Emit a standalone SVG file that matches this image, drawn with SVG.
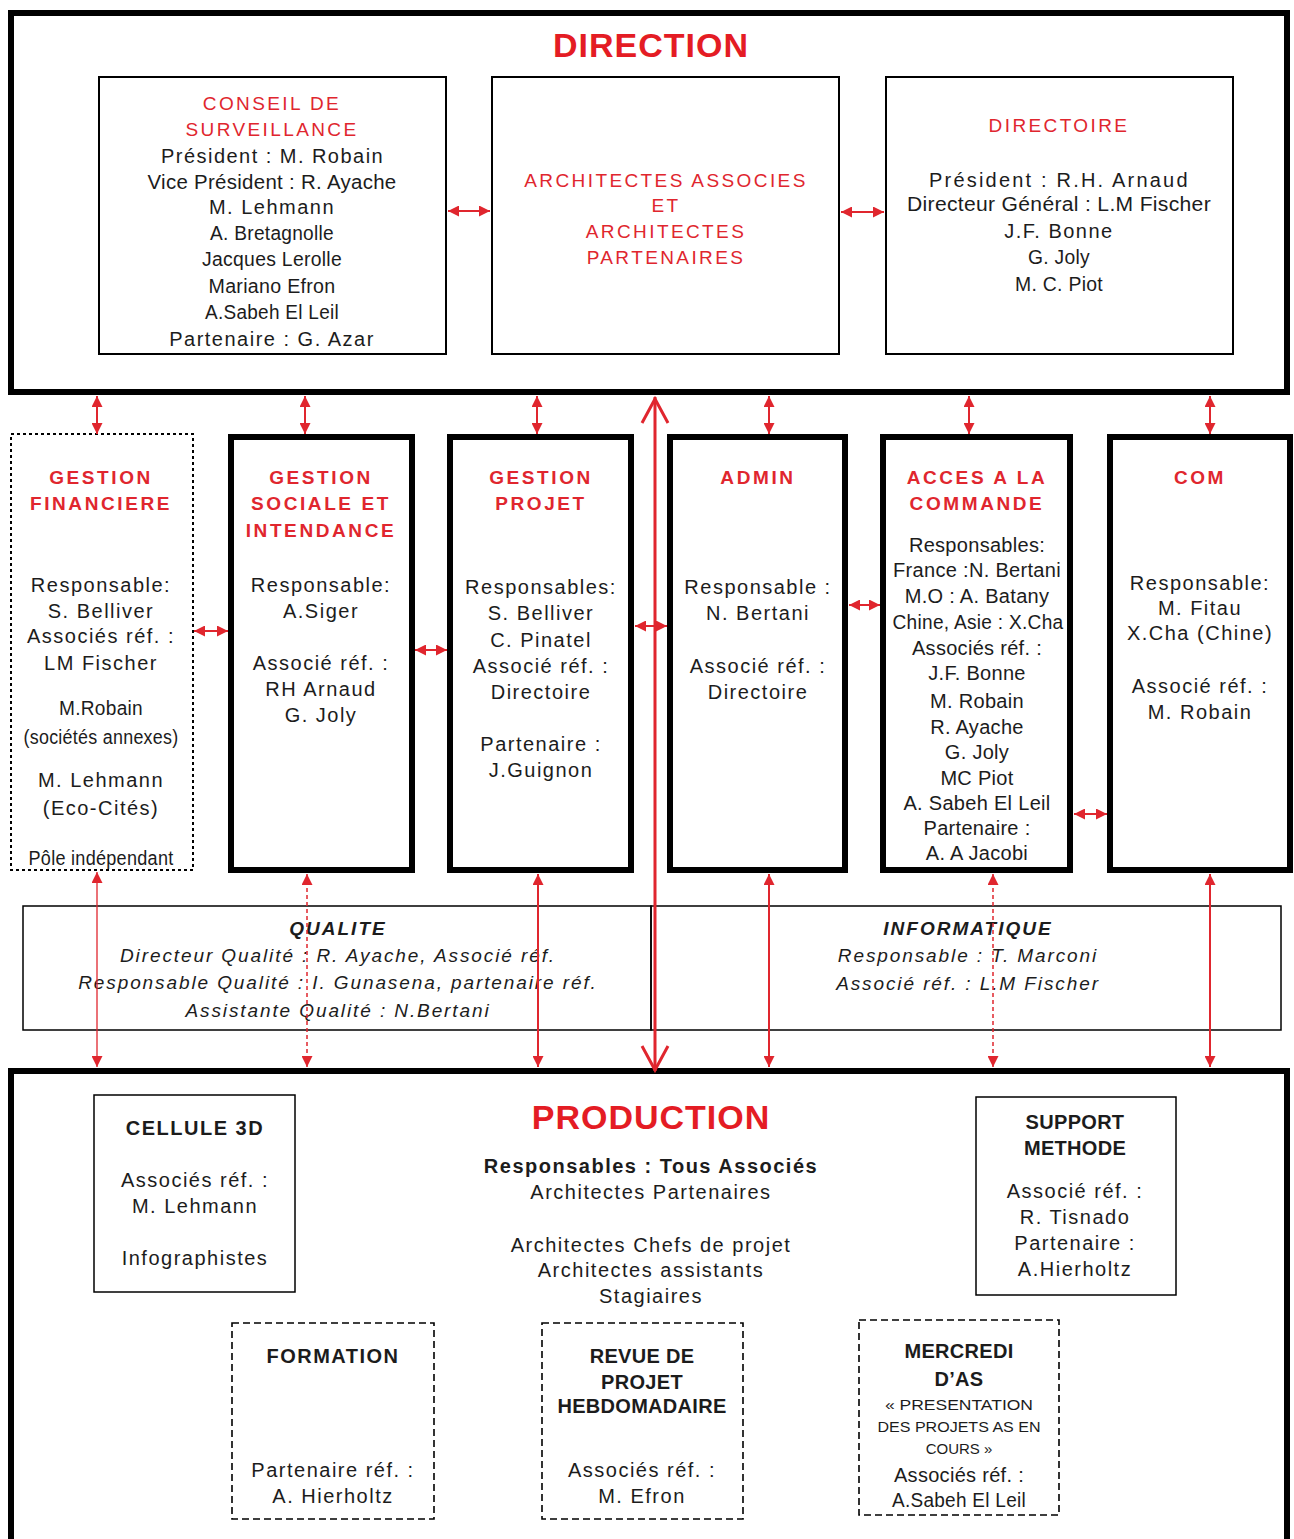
<svg xmlns="http://www.w3.org/2000/svg" width="1294" height="1539" viewBox="0 0 1294 1539">
  <style>
    text { font-family: "Liberation Sans", Arial, sans-serif; text-anchor: middle; }
    .t { font-size: 20px; letter-spacing: 1.5px; fill: #1c1c1c; }
    .n { letter-spacing: 0.3px; }
    .b { font-weight: bold; }
    .r { font-size: 19px; letter-spacing: 2.4px; fill: #e0262e; }
    .rb { font-size: 19px; font-weight: bold; letter-spacing: 2.6px; fill: #e0262e; }
    .big { font-size: 34px; font-weight: bold; letter-spacing: 1px; fill: #e41c24; }
    .i { font-size: 19px; font-style: italic; letter-spacing: 1.9px; fill: #1c1c1c; }
    .ib { font-size: 19px; font-style: italic; font-weight: bold; letter-spacing: 2px; fill: #1c1c1c; }
    .sm { font-size: 15px; letter-spacing: 0; fill: #1c1c1c; }
    .frame { fill: none; stroke: #000; stroke-width: 6; }
    .box { fill: none; stroke: #000; stroke-width: 2; }
    .thin { fill: none; stroke: #000; stroke-width: 1.5; }
    .dot { fill: none; stroke: #000; stroke-width: 2; stroke-dasharray: 3 3; }
    .dash { fill: none; stroke: #000; stroke-width: 1.6; stroke-dasharray: 7 4; }
    .link { stroke: #e0262e; stroke-width: 2; fill: none; marker-start: url(#tip); marker-end: url(#tip); }
    .link-thin { stroke-width: 1.3; }
    .link-dash { stroke-width: 1.5; stroke-dasharray: 4 3; }
    .spine { stroke: #e0262e; stroke-width: 3; fill: none; }
  </style>
  <defs>
    <marker id="tip" viewBox="0 0 10 10" refX="10" refY="5" markerWidth="11" markerHeight="11" markerUnits="userSpaceOnUse" orient="auto-start-reverse">
      <path d="M0,0 L10,5 L0,10 z" fill="#e0262e"/>
    </marker>
  </defs>

  <rect x="0" y="0" width="1294" height="1539" fill="#fff"/>

  <!-- DIRECTION block -->
  <g id="direction">
    <rect class="frame" x="11" y="13" width="1276" height="379"/>
    <text class="big" x="651" y="57">DIRECTION</text>
  </g>

  <g id="conseil">
    <rect class="box" x="99" y="77" width="347" height="277"/>
    <text class="r" x="272" y="110">CONSEIL DE</text>
    <text class="r" x="272" y="136">SURVEILLANCE</text>
    <text class="t n" x="272" y="163" textLength="222" lengthAdjust="spacing">Président : M. Robain</text>
    <text class="t n" x="272" y="189" textLength="249" lengthAdjust="spacingAndGlyphs">Vice Président : R. Ayache</text>
    <text class="t" x="272" y="214">M.  Lehmann</text>
    <text class="t n" x="272" y="240" textLength="124" lengthAdjust="spacingAndGlyphs">A. Bretagnolle</text>
    <text class="t n" x="272" y="266" textLength="140" lengthAdjust="spacingAndGlyphs">Jacques Lerolle</text>
    <text class="t n" x="272" y="293" textLength="127" lengthAdjust="spacingAndGlyphs">Mariano Efron</text>
    <text class="t n" x="272" y="319" textLength="134" lengthAdjust="spacingAndGlyphs">A.Sabeh El Leil</text>
    <text class="t" x="272" y="346">Partenaire : G. Azar</text>
  </g>

  <g id="architectes">
    <rect class="box" x="492" y="77" width="347" height="277"/>
    <text class="r" x="666" y="187">ARCHITECTES ASSOCIES</text>
    <text class="r" x="666" y="212">ET</text>
    <text class="r" x="666" y="238">ARCHITECTES</text>
    <text class="r" x="666" y="264">PARTENAIRES</text>
  </g>

  <g id="directoire">
    <rect class="box" x="886" y="77" width="347" height="277"/>
    <text class="r" x="1059" y="132">DIRECTOIRE</text>
    <text class="t" x="1059" y="187" textLength="260" lengthAdjust="spacing">Président : R.H. Arnaud</text>
    <text class="t n" x="1059" y="211" textLength="304" lengthAdjust="spacingAndGlyphs">Directeur Général : L.M Fischer</text>
    <text class="t" x="1059" y="238">J.F. Bonne</text>
    <text class="t n" x="1059" y="264" textLength="62" lengthAdjust="spacingAndGlyphs">G. Joly</text>
    <text class="t n" x="1059" y="291" textLength="88" lengthAdjust="spacingAndGlyphs">M. C. Piot</text>
  </g>

  <!-- middle row of departments -->
  <g id="gestion-financiere">
    <rect class="dot" x="11" y="434" width="182" height="436"/>
    <text class="rb" x="101" y="484">GESTION</text>
    <text class="rb" x="101" y="510">FINANCIERE</text>
    <text class="t" x="101" y="592">Responsable:</text>
    <text class="t" x="101" y="618">S. Belliver</text>
    <text class="t" x="101" y="643">Associés réf. :</text>
    <text class="t" x="101" y="670">LM Fischer</text>
    <text class="t n" x="101" y="715" textLength="84" lengthAdjust="spacingAndGlyphs">M.Robain</text>
    <text class="t n" x="101" y="744" textLength="155" lengthAdjust="spacingAndGlyphs">(sociétés annexes)</text>
    <text class="t" x="101" y="787">M. Lehmann</text>
    <text class="t" x="101" y="815">(Eco-Cités)</text>
    <text class="t n" x="101" y="865" textLength="145" lengthAdjust="spacingAndGlyphs">Pôle indépendant</text>
  </g>

  <g id="gestion-sociale">
    <rect class="frame" x="231" y="437" width="181" height="433"/>
    <text class="rb" x="321" y="484">GESTION</text>
    <text class="rb" x="321" y="510">SOCIALE ET</text>
    <text class="rb" x="321" y="537">INTENDANCE</text>
    <text class="t" x="321" y="592">Responsable:</text>
    <text class="t" x="321" y="618">A.Siger</text>
    <text class="t" x="321" y="670">Associé réf. :</text>
    <text class="t" x="321" y="696">RH Arnaud</text>
    <text class="t" x="321" y="722">G. Joly</text>
  </g>

  <g id="gestion-projet">
    <rect class="frame" x="450" y="437" width="181" height="433"/>
    <text class="rb" x="541" y="484">GESTION</text>
    <text class="rb" x="541" y="510">PROJET</text>
    <text class="t" x="541" y="594">Responsables:</text>
    <text class="t" x="541" y="620">S. Belliver</text>
    <text class="t" x="541" y="647">C. Pinatel</text>
    <text class="t" x="541" y="673">Associé réf. :</text>
    <text class="t" x="541" y="699">Directoire</text>
    <text class="t" x="541" y="751">Partenaire :</text>
    <text class="t" x="541" y="777">J.Guignon</text>
  </g>

  <g id="admin">
    <rect class="frame" x="670" y="437" width="175" height="433"/>
    <text class="rb" x="758" y="484">ADMIN</text>
    <text class="t" x="758" y="594">Responsable :</text>
    <text class="t" x="758" y="620">N. Bertani</text>
    <text class="t" x="758" y="673">Associé réf. :</text>
    <text class="t" x="758" y="699">Directoire</text>
  </g>

  <g id="acces-commande">
    <rect class="frame" x="883" y="437" width="187" height="433"/>
    <text class="rb" x="977" y="484">ACCES A LA</text>
    <text class="rb" x="977" y="510">COMMANDE</text>
    <text class="t n" x="977" y="552">Responsables:</text>
    <text class="t n" x="977" y="577" textLength="168" lengthAdjust="spacingAndGlyphs">France :N. Bertani</text>
    <text class="t n" x="977" y="603">M.O : A. Batany</text>
    <text class="t n" x="978" y="629" textLength="171" lengthAdjust="spacingAndGlyphs">Chine, Asie : X.Cha</text>
    <text class="t n" x="977" y="655">Associés réf. :</text>
    <text class="t n" x="977" y="680">J.F. Bonne</text>
    <text class="t n" x="977" y="708">M. Robain</text>
    <text class="t n" x="977" y="734">R. Ayache</text>
    <text class="t n" x="977" y="759">G. Joly</text>
    <text class="t n" x="977" y="785">MC Piot</text>
    <text class="t n" x="977" y="810">A. Sabeh El Leil</text>
    <text class="t n" x="977" y="835">Partenaire :</text>
    <text class="t n" x="977" y="860">A. A Jacobi</text>
  </g>

  <g id="com">
    <rect class="frame" x="1110" y="437" width="180" height="433"/>
    <text class="rb" x="1200" y="484">COM</text>
    <text class="t" x="1200" y="590">Responsable:</text>
    <text class="t" x="1200" y="615">M. Fitau</text>
    <text class="t" x="1200" y="640">X.Cha (Chine)</text>
    <text class="t" x="1200" y="693">Associé réf. :</text>
    <text class="t" x="1200" y="719">M. Robain</text>
  </g>

  <!-- transversal services -->
  <g id="qualite">
    <rect class="thin" x="23" y="906" width="628" height="124"/>
    <text class="ib" x="338" y="935">QUALITE</text>
    <text class="i" x="338" y="962">Directeur Qualité : R. Ayache, Associé réf.</text>
    <text class="i" x="338" y="989">Responsable Qualité : I. Gunasena, partenaire réf.</text>
    <text class="i" x="338" y="1017">Assistante Qualité : N.Bertani</text>
  </g>

  <g id="informatique">
    <rect class="thin" x="651" y="906" width="630" height="124"/>
    <text class="ib" x="968" y="935">INFORMATIQUE</text>
    <text class="i" x="968" y="962">Responsable : T. Marconi</text>
    <text class="i" x="968" y="990">Associé réf. : L.M Fischer</text>
  </g>

  <!-- PRODUCTION block -->
  <g id="production">
    <rect class="frame" x="11" y="1071" width="1276" height="500"/>
    <text class="big" x="651" y="1129">PRODUCTION</text>
    <text class="t b" x="651" y="1173">Responsables : Tous Associés</text>
    <text class="t" x="651" y="1199">Architectes Partenaires</text>
    <text class="t" x="651" y="1252">Architectes Chefs de projet</text>
    <text class="t" x="651" y="1277">Architectes assistants</text>
    <text class="t" x="651" y="1303">Stagiaires</text>
  </g>

  <g id="cellule-3d">
    <rect class="thin" x="94" y="1095" width="201" height="197"/>
    <text class="t b" x="195" y="1135">CELLULE 3D</text>
    <text class="t" x="195" y="1187">Associés réf. :</text>
    <text class="t" x="195" y="1213">M. Lehmann</text>
    <text class="t" x="195" y="1265">Infographistes</text>
  </g>

  <g id="support-methode">
    <rect class="thin" x="976" y="1097" width="200" height="198"/>
    <text class="t b n" x="1075" y="1129">SUPPORT</text>
    <text class="t b n" x="1075" y="1155">METHODE</text>
    <text class="t" x="1075" y="1198">Associé réf. :</text>
    <text class="t" x="1075" y="1224">R. Tisnado</text>
    <text class="t" x="1075" y="1250">Partenaire :</text>
    <text class="t" x="1075" y="1276">A.Hierholtz</text>
  </g>

  <g id="formation">
    <rect class="dash" x="232" y="1323" width="202" height="196"/>
    <text class="t b" x="333" y="1363">FORMATION</text>
    <text class="t" x="333" y="1477">Partenaire réf. :</text>
    <text class="t" x="333" y="1503">A. Hierholtz</text>
  </g>

  <g id="revue-projet">
    <rect class="dash" x="542" y="1323" width="201" height="196"/>
    <text class="t b n" x="642" y="1363">REVUE DE</text>
    <text class="t b n" x="642" y="1389">PROJET</text>
    <text class="t b n" x="642" y="1413">HEBDOMADAIRE</text>
    <text class="t" x="642" y="1477">Associés réf. :</text>
    <text class="t" x="642" y="1503">M. Efron</text>
  </g>

  <g id="mercredi-as">
    <rect class="dash" x="859" y="1320" width="200" height="195"/>
    <text class="t b n" x="959" y="1358">MERCREDI</text>
    <text class="t b n" x="959" y="1386">D’AS</text>
    <text class="sm" x="959" y="1410" textLength="148" lengthAdjust="spacingAndGlyphs">« PRESENTATION</text>
    <text class="sm" x="959" y="1432" textLength="163" lengthAdjust="spacingAndGlyphs">DES PROJETS AS EN</text>
    <text class="sm" x="959" y="1454">COURS »</text>
    <text class="t n" x="959" y="1482">Associés réf. :</text>
    <text class="t n" x="959" y="1507" textLength="134" lengthAdjust="spacingAndGlyphs">A.Sabeh El Leil</text>
  </g>

  <!-- connectors -->
  <g id="connectors">
    <!-- inside DIRECTION -->
    <line class="link" x1="448" y1="211" x2="490" y2="211"/>
    <line class="link" x1="841" y1="212" x2="884" y2="212"/>

    <!-- DIRECTION to departments -->
    <line class="link" x1="97" y1="396" x2="97" y2="434"/>
    <line class="link" x1="305" y1="396" x2="305" y2="434"/>
    <line class="link" x1="537" y1="396" x2="537" y2="434"/>
    <line class="link" x1="769" y1="396" x2="769" y2="434"/>
    <line class="link" x1="969" y1="396" x2="969" y2="434"/>
    <line class="link" x1="1210" y1="396" x2="1210" y2="434"/>

    <!-- between departments -->
    <line class="link" x1="194" y1="631" x2="228" y2="631"/>
    <line class="link" x1="415" y1="650" x2="447" y2="650"/>
    <line class="link" x1="635" y1="626" x2="667" y2="626"/>
    <line class="link" x1="849" y1="605" x2="880" y2="605"/>
    <line class="link" x1="1074" y1="814" x2="1107" y2="814"/>

    <!-- departments to PRODUCTION -->
    <line class="link link-thin" x1="97" y1="872" x2="97" y2="1067"/>
    <line class="link link-dash" x1="307" y1="874" x2="307" y2="1067"/>
    <line class="link" x1="538" y1="874" x2="538" y2="1067"/>
    <line class="link" x1="769" y1="874" x2="769" y2="1067"/>
    <line class="link link-dash" x1="993" y1="874" x2="993" y2="1067"/>
    <line class="link" x1="1210" y1="874" x2="1210" y2="1067"/>

    <!-- central spine DIRECTION <-> PRODUCTION -->
    <line class="spine" x1="655" y1="397" x2="655" y2="1071"/>
    <polyline class="spine" points="642,423 655,399 668,423"/>
    <polyline class="spine" points="642,1046 655,1070 668,1046"/>
  </g>
</svg>
